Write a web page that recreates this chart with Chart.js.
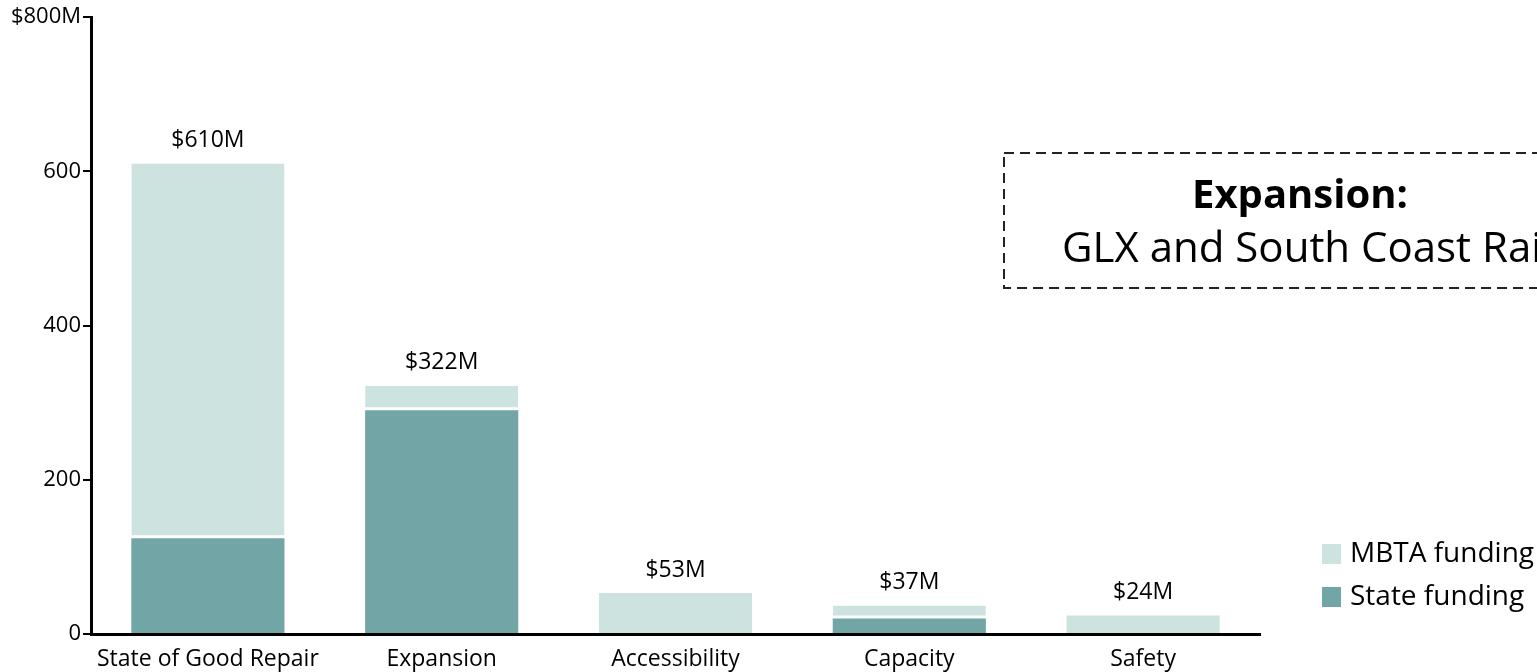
<!DOCTYPE html>
<html>
<head>
<meta charset="utf-8">
<script src="https://cdn.jsdelivr.net/npm/chart.js@4"></script>
<style>
  html, body { margin: 0; padding: 0; background: #fff; }
  #wrap { width: 1537px; height: 672px; }
</style>
</head>
<body>
<div id="wrap"><canvas id="grafico" width="1537" height="672"></canvas></div>
<script>
const categorias = ['State of Good Repair', 'Expansion', 'Accessibility', 'Capacity', 'Safety'];
const estado = [124, 290, 0, 20, 0];
const mbta = [486, 32, 53, 17, 24];
const ticksY = [0, 200, 400, 600, 800];

const corMbta = '#cde3e0';
const corEstado = '#72a5a5';
const fonte = '"Open Sans", sans-serif';

// rotulos de total acima das barras + caixa tracejada + legenda
const extras = {
  id: 'extras',
  afterDatasetsDraw(chart) {
    const c = chart.ctx;
    const x = chart.scales.x, y = chart.scales.y;
    c.save();
    c.fillStyle = '#000';
    c.font = '23px ' + fonte;
    c.textAlign = 'center';
    c.textBaseline = 'middle';
    categorias.forEach((cat, i) => {
      const total = estado[i] + mbta[i];
      c.fillText('$' + total + 'M', x.getPixelForValue(i), y.getPixelForValue(total) - 23);
    });

    // caixa
    c.setLineDash([10, 6]);
    c.lineWidth = 2;
    c.strokeStyle = '#222';
    c.strokeRect(1004, 153, 600, 135);
    c.setLineDash([]);
    c.font = 'bold 40px ' + fonte;
    c.fillText('Expansion:', 1300, 197);
    c.textAlign = 'left';
    c.font = '42px ' + fonte;
    c.fillText('GLX and South Coast Rail', 1062, 250);

    // legenda
    const itens = [[chart.data.datasets[1], 554], [chart.data.datasets[0], 597]];
    c.font = '28px ' + fonte;
    itens.forEach(([ds, yy]) => {
      c.fillStyle = ds.backgroundColor;
      c.fillRect(1322, yy - 10, 19, 20);
      c.fillStyle = '#000';
      c.fillText(ds.label, 1350, yy);
    });
    c.restore();
  }
};

new Chart(document.getElementById('grafico'), {
  type: 'bar',
  data: {
    labels: categorias,
    datasets: [
      {
        label: 'State funding',
        data: estado,
        backgroundColor: corEstado,
        borderWidth: 0
      },
      {
        label: 'MBTA funding',
        data: mbta,
        backgroundColor: corMbta,
        borderColor: '#fff',
        borderSkipped: false,
        borderWidth: ctx => ({ top: 0, left: 0, right: 0, bottom: estado[ctx.dataIndex] > 0 ? 3 : 0 })
      }
    ]
  },
  options: {
    responsive: false,
    animation: false,
    layout: { padding: { top: 17, right: 277, left: 0, bottom: 0 } },
    datasets: { bar: { barPercentage: 0.655, categoryPercentage: 1 } },
    plugins: {
      legend: { display: false },
      tooltip: { enabled: false }
    },
    scales: {
      x: {
        stacked: true,
        grid: { display: false },
        border: { color: '#000', width: 3 },
        ticks: { color: '#000', font: { family: fonte, size: 23 }, padding: 4 },
        afterFit: s => { s.height = 38; }
      },
      y: {
        stacked: true,
        min: 0,
        max: 800,
        afterBuildTicks: s => { s.ticks = ticksY.map(v => ({ value: v })); },
        grid: { display: true, drawOnChartArea: false, drawTicks: true, tickLength: 8, color: '#000', lineWidth: 2 },
        border: { color: '#000', width: 3 },
        ticks: {
          color: '#000',
          font: { family: fonte, size: 22 },
          padding: 2,
          callback: v => v === 800 ? '$800M' : v
        },
        afterFit: s => { s.width = 91; }
      }
    }
  },
  plugins: [extras]
});
</script>
</body>
</html>
